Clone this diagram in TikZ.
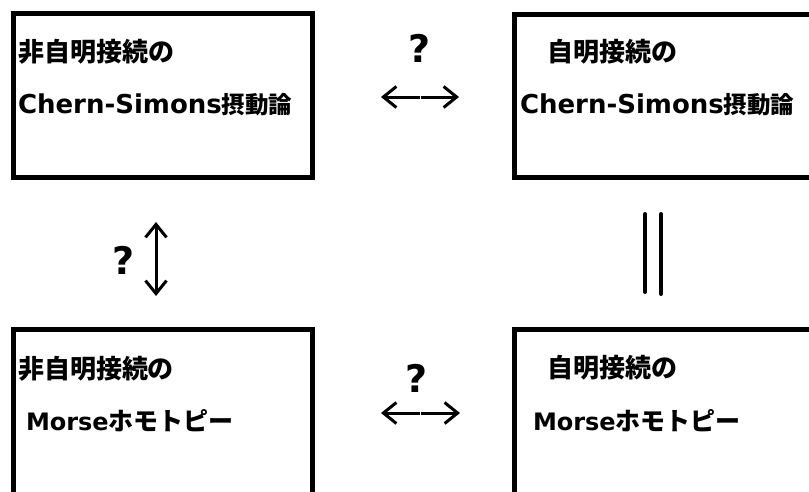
\documentclass[tikz,border=0pt]{standalone}
\usepackage{fontspec}
\setmainfont{DejaVu Sans}
\newfontfamily\cjk{Noto Sans CJK JP}
\usetikzlibrary{arrows.meta}
\newcommand{\lat}[1]{{\fontsize{26}{30}\selectfont\bfseries #1}}
\newcommand{\latm}[1]{{\fontsize{24}{28}\selectfont\bfseries #1}}
\newcommand{\jpa}[1]{{\cjk\fontsize{26}{30}\selectfont\bfseries #1}}
\newcommand{\jpm}[1]{{\cjk\fontsize{25}{30}\selectfont\bfseries #1}}
\newcommand{\jpb}[1]{{\cjk\fontsize{23.5}{26}\selectfont\bfseries #1}}
\begin{document}
\begin{tikzpicture}[x=1pt,y=-1pt,
  box/.style={draw=black,line width=5pt},
  txt/.style={anchor=base west,inner sep=0pt,outer sep=0pt},
  qm/.style={inner sep=0pt,font=\fontsize{38}{40}\selectfont\bfseries},
  tip/.style={},
  arr/.style={line width=3pt,-{Straight Barb[length=13pt,width=21pt,line width=3pt]}},
  darr/.style={line width=3pt,{Straight Barb[length=13pt,width=21pt,line width=3pt]}-{Straight Barb[length=13pt,width=21pt,line width=3pt]}},
  eqline/.style={line width=4pt,line cap=round}]
\useasboundingbox (0,0) rectangle (809,491);
% boxes
\draw[box] (13.5,13.5) rectangle (312.5,177);
\draw[box] (514,14) rectangle (840,177);
\draw[box] (13,329.5) rectangle (312,530);
\draw[box] (514,329.5) rectangle (840,530);
% texts
\node[txt] (tl1) at (19,61) {\jpa{非自明接続の}};
\node[txt] (tl2) at (18,113) {\lat{Chern-Simons}\jpb{摂動論}};
\node[txt] (tr1) at (547,61) {\jpa{自明接続の}};
\node[txt] (tr2) at (520,113) {\lat{Chern-Simons}\jpb{摂動論}};
\node[txt] (bl1) at (18,378) {\jpa{非自明接続の}};
\node[txt] (bl2) at (26,430) {\latm{Morse}\jpm{ホモトピー}};
\node[txt] (br1) at (547,377) {\jpa{自明接続の}};
\node[txt] (br2) at (533,430) {\latm{Morse}\jpm{ホモトピー}};
% question marks
\node[qm] (q1) at (420,48) {?};
\node[qm] (q2) at (417,378) {?};
\node[qm] (q3) at (124,260) {?};
% arrows
\coordinate (h1l) at (419.5,97);
\coordinate (h1r) at (420.5,97);
\coordinate (h1a) at (381,97);
\coordinate (h1b) at (459,97);
\draw[arr] (h1l) -- (h1a);
\draw[arr] (h1r) -- (h1b);
\coordinate (h2l) at (420,413);
\coordinate (h2r) at (421,413);
\coordinate (h2a) at (381,413);
\coordinate (h2b) at (460,413);
\draw[arr] (h2l) -- (h2a);
\draw[arr] (h2r) -- (h2b);
\coordinate (v1) at (156,222);
\coordinate (v2) at (156,296);
\draw[darr] (v1) -- (v2);
% equality
\coordinate (e1a) at (645,214);
\coordinate (e1b) at (645,292);
\coordinate (e2a) at (661,214);
\coordinate (e2b) at (661,294);
\draw[eqline] (e1a) -- (e1b);
\draw[eqline] (e2a) -- (e2b);
\end{tikzpicture}
\end{document}
